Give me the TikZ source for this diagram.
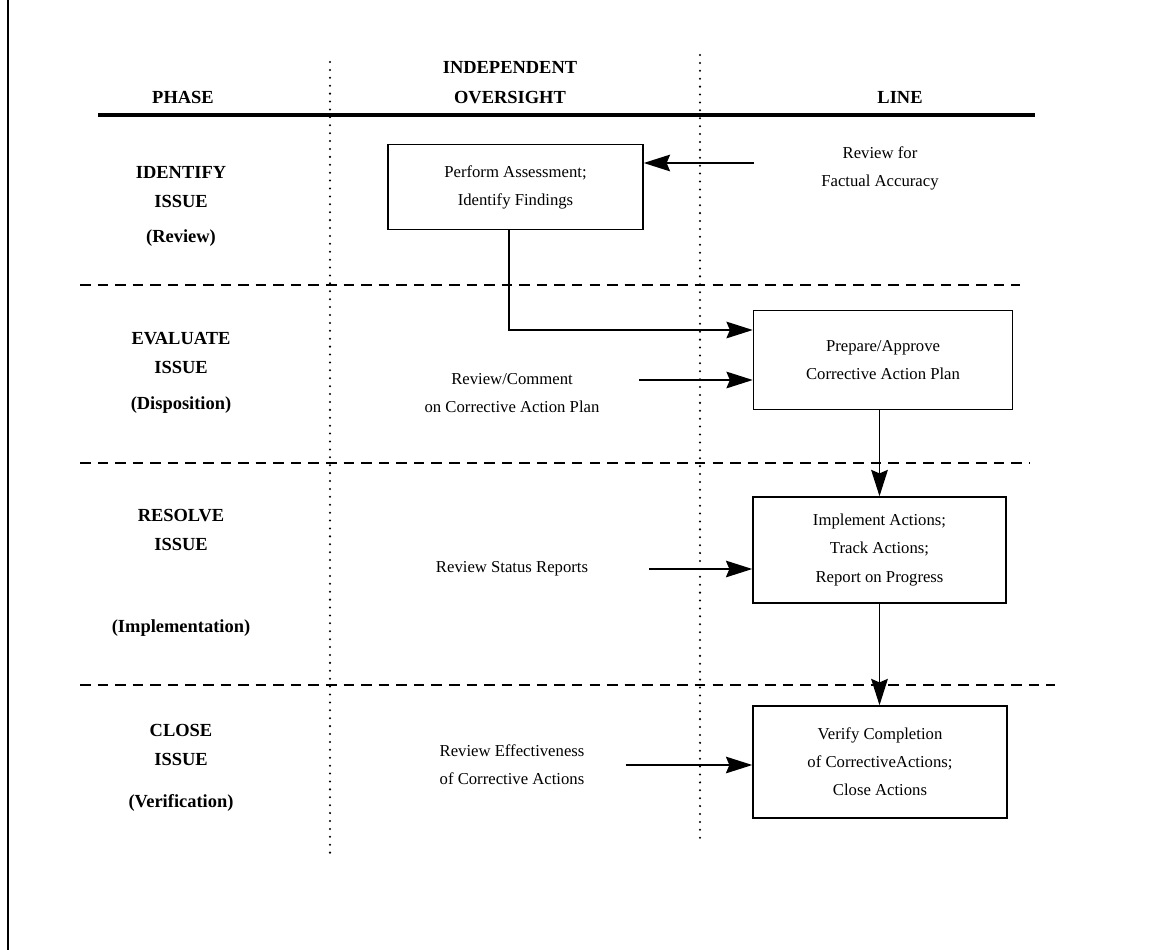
\documentclass[tikz,border=0pt]{standalone}
\usepackage{fontspec}
\setmainfont{Liberation Serif}
\usetikzlibrary{calc,arrows.meta}

\tikzset{
  box/.style={draw, line width=0.9pt, align=center, inner sep=0pt,
    font=\fontsize{9.5}{16}\selectfont},
  note/.style={align=center, font=\fontsize{9.5}{16}\selectfont},
  phase/.style={align=center, font=\bfseries\fontsize{10.5}{17}\selectfont},
  flow/.style={-{Stealth[length=15pt,width=9.5pt,inset=2pt]}, line width=0.8pt},
  colsep/.style={line width=1.3pt, line cap=round, dash pattern=on 0pt off 4.5pt},
  rowsep/.style={line width=0.9pt, dash pattern=on 6pt off 4pt},
}

\begin{document}
\begin{tikzpicture}[x=0.02cm,y=-0.02cm]
        \useasboundingbox (0,0) rectangle (1150,950);
        \draw[line width=1.6pt] (8,0) -- (8,950);
        % headings
        \node[phase] (hphase) at (183,97) {PHASE};
        \node[phase] (hover) at (510,83) {INDEPENDENT\\OVERSIGHT};
        \node[phase] (hline) at (900,97) {LINE};
        \draw[line width=2.2pt] (98,115) -- (1035,115);
        % column and row separators
        \draw[colsep] (330,62) -- (330,853);
        \draw[colsep] (700,55) -- (700,843);
        \foreach \y/\xe in {285/1020,463/1030,685/1055}
        \draw[rowsep] (80,\y) -- (\xe,\y);
        % phases
        \node[phase] (identify) at (181,187) {IDENTIFY\\ISSUE};
        \node[phase] (review) at (181,238) {(Review)};
        \node[phase] (evaluate) at (181,353) {EVALUATE\\ISSUE};
        \node[phase] (dispo) at (181,405) {(Disposition)};
        \node[phase] (resolve) at (181,530) {RESOLVE\\ISSUE};
        \node[phase] (implem) at (181,628) {(Implementation)};
        \node[phase] (close) at (181,745) {CLOSE\\ISSUE};
        \node[phase] (verif) at (181,803) {(Verification)};
        % boxes
        \node[box, minimum width=5.1cm, minimum height=1.7cm] (assess) at (515.5,187)
            {Perform Assessment;\\Identify Findings};
        \node[box, minimum width=5.18cm, minimum height=1.98cm] (plan) at (883,360)
            {Prepare/Approve\\Corrective Action Plan};
        \node[box, minimum width=5.06cm, minimum height=2.12cm] (impl) at (879.5,550)
            {Implement Actions;\\Track Actions;\\Report on Progress};
        \node[box, minimum width=5.08cm, minimum height=2.24cm] (verify) at (880,762)
            {Verify Completion\\of CorrectiveActions;\\Close Actions};
        % side notes
        \node[note] (fact) at (880,168) {Review for\\Factual Accuracy};
        \node[note] (comment) at (512,393) {Review/Comment\\on Corrective Action Plan};
        \node[note] (status) at (512,569) {Review Status Reports};
        \node[note] (effect) at (512,765) {Review Effectiveness\\of Corrective Actions};
        % connectors
        \coordinate (factstart) at (754,163);
        \coordinate (commentstart) at (639,380);
        \coordinate (bend) at (509,330);
        \draw[flow] (factstart) -- (factstart -| assess.east);
        \draw[flow] (assess.south -| bend) -- (bend) -- (bend -| plan.west);
        \draw[flow] (commentstart) -- (commentstart -| plan.west);
        \draw[flow] ([xshift=1.1cm]status.east) -- (status.east -| impl.west);
        \draw[flow] ([xshift=0.7cm]effect.east) -- (effect.east -| verify.west);
        \draw[flow] (plan.south -| impl.north) -- (impl.north);
        \draw[flow] (impl.south) -- (impl.south |- verify.north);
    \end{tikzpicture}
\end{document}
